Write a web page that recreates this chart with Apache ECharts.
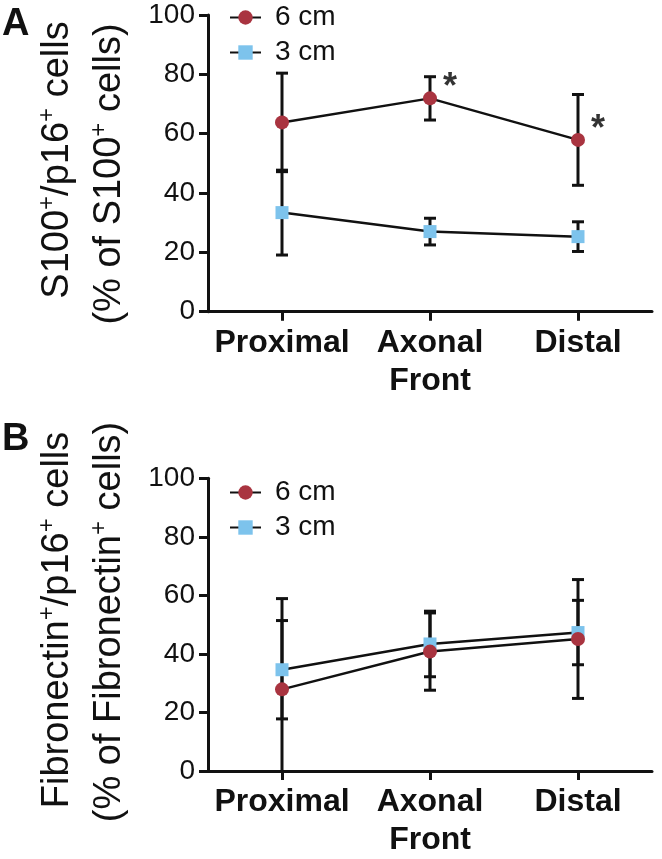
<!DOCTYPE html>
<html><head><meta charset="utf-8">
<script src="https://cdn.jsdelivr.net/npm/echarts@6/dist/echarts.min.js"></script>
<style>html,body{margin:0;padding:0;background:#fff}#c{width:662px;height:859px}</style>
</head><body><div id="c"></div>
<script>
// ---- data ----
const categories = ['Proximal', 'Axonal\nFront', 'Distal'];
const yTickValues = [0, 20, 40, 60, 80, 100];
const seriesNames = ['6 cm', '3 cm'];
// Panel A: S100+/p16+ cells (% of S100+ cells), mean and error
const a6Mean = [63.8, 71.9, 57.9];
const a6Err  = [16.6, 7.3, 15.3];
const a3Mean = [33.4, 27.0, 25.3];
const a3Err  = [14.3, 4.5, 5.0];
const aStars = ['', '*', '*'];
// Panel B: Fibronectin+/p16+ cells (% of Fibronectin+ cells)
const b6Mean = [27.9, 40.8, 45.1];
const b6Err  = [31.0, 13.2, 20.3];
const b3Mean = [34.6, 43.4, 47.3];
const b3Err  = [16.8, 11.2, 11.0];

const FONT = '"Liberation Sans", Arial, Helvetica, sans-serif';
const RED = '#A93440';
const BLUE = '#7DC3EC';
const INK = '#111111';

const chart = echarts.init(document.getElementById('c'), null, {renderer: 'canvas'});

function errData(means, errs) {
  return means.map((m, i) => [i, m, errs[i]]);
}
function errSeries(means, errs, gi) {
  return {
    type: 'custom', xAxisIndex: gi, yAxisIndex: gi, z: 1, silent: true,
    data: errData(means, errs),
    renderItem: function (params, api) {
      const i = api.value(0), m = api.value(1), e = api.value(2);
      const hiV = m + e, loV = Math.max(0, m - e);
      const hi = api.coord([i, hiV]);
      const lo = api.coord([i, loV]);
      const w = 6;
      const st = {stroke: INK, lineWidth: 3};
      const ch = [
        {type: 'line', shape: {x1: hi[0], y1: hi[1], x2: lo[0], y2: lo[1]}, style: st},
        {type: 'line', shape: {x1: hi[0] - w, y1: hi[1], x2: hi[0] + w, y2: hi[1]}, style: st}
      ];
      if (m - e > 0) ch.push({type: 'line', shape: {x1: lo[0] - w, y1: lo[1], x2: lo[0] + w, y2: lo[1]}, style: st});
      return {type: 'group', children: ch};
    }
  };
}
function lineSeries(name, means, gi, symbol, size, color) {
  return {
    name: name, type: 'line', xAxisIndex: gi, yAxisIndex: gi, z: 3,
    data: means, symbol: symbol, symbolSize: size, showSymbol: true,
    itemStyle: {color: color, opacity: 1},
    lineStyle: {color: INK, width: 2.5},
    emphasis: {disabled: true}, animation: false
  };
}
function yAxis(gi) {
  return {
    type: 'value', gridIndex: gi, min: 0, max: 100, interval: 20,
    axisLine: {show: true, lineStyle: {color: INK, width: 3}},
    axisTick: {show: true, length: 9, lineStyle: {color: INK, width: 3}},
    axisLabel: {fontSize: 28, color: INK, fontFamily: FONT, margin: 13,
      customValues: yTickValues},
    splitLine: {show: false}
  };
}
function xAxis(gi) {
  return {
    type: 'category', gridIndex: gi, data: categories, boundaryGap: true,
    axisLine: {show: true, lineStyle: {color: INK, width: 3}},
    axisTick: {show: true, alignWithLabel: true, length: 9, lineStyle: {color: INK, width: 3}},
    axisLabel: {fontSize: 32, fontWeight: 'bold', color: INK, fontFamily: FONT,
      lineHeight: 38, margin: 12, interval: 0},
    splitLine: {show: false}
  };
}
function legend(top) {
  return {
    orient: 'vertical', left: 224, top: top, itemWidth: 31, itemHeight: 18, itemGap: 4,
    data: seriesNames,
    textStyle: {fontSize: 28, color: INK, fontFamily: FONT, padding: [0, 0, 0, 9], lineHeight: 31},
    selectedMode: false
  };
}
const rich = {
  n: {fontSize: 38, fontFamily: FONT, color: INK, lineHeight: 46},
  s: {fontSize: 24, fontFamily: FONT, color: INK, lineHeight: 22, verticalAlign: 'top'}
};
function vText(txt, x, y) {
  return {
    type: 'text', x: x, y: y, rotation: Math.PI / 2, silent: true,
    style: {text: txt, rich: rich, align: 'center', verticalAlign: 'middle', fill: INK,
      font: '38px ' + FONT}
  };
}

const option = {
  animation: false,
  backgroundColor: '#fff',
  grid: [
    {left: 208, top: 15, width: 444, height: 296.7, containLabel: false},
    {left: 208, top: 478.3, width: 444, height: 297.4, containLabel: false}
  ],
  xAxis: [xAxis(0), xAxis(1)],
  yAxis: [yAxis(0), yAxis(1)],
  legend: [legend(-3), legend(472)],
  graphic: [
    {type: 'text', left: 2, top: 6, silent: true,
      style: {text: 'A', font: 'bold 38px ' + FONT, fill: INK}},
    {type: 'text', left: 2, top: 421, silent: true,
      style: {text: 'B', font: 'bold 38px ' + FONT, fill: INK}},
    vText('{n|S100}{s|+}{n|/p16}{s|+}{n| cells}', 58, 160),
    vText('{n|(% of S100}{s|+}{n| cells)}', 110, 174),
    vText('{n|Fibronectin}{s|+}{n|/p16}{s|+}{n| cells}', 58, 620),
    vText('{n|(% of Fibronectin}{s|+}{n| cells)}', 110, 622)
  ],
  series: [
    errSeries(a6Mean, a6Err, 0),
    errSeries(a3Mean, a3Err, 0),
    lineSeries('6 cm', a6Mean, 0, 'circle', 14, RED),
    lineSeries('3 cm', a3Mean, 0, 'rect', 13, BLUE),
    {
      type: 'scatter', xAxisIndex: 0, yAxisIndex: 0, z: 4, silent: true,
      data: a6Mean.map((m, i) => [i, m, aStars[i]]),
      symbolSize: 0,
      label: {show: true, formatter: p => p.value[2], fontSize: 36, fontWeight: 'bold',
        fontFamily: FONT, color: '#000', position: 'inside', offset: [20, -10]}
    },
    errSeries(b6Mean, b6Err, 1),
    errSeries(b3Mean, b3Err, 1),
    lineSeries('3 cm', b3Mean, 1, 'rect', 13, BLUE),
    lineSeries('6 cm', b6Mean, 1, 'circle', 14, RED)
  ]
};
chart.setOption(option);
</script>
</body></html>
